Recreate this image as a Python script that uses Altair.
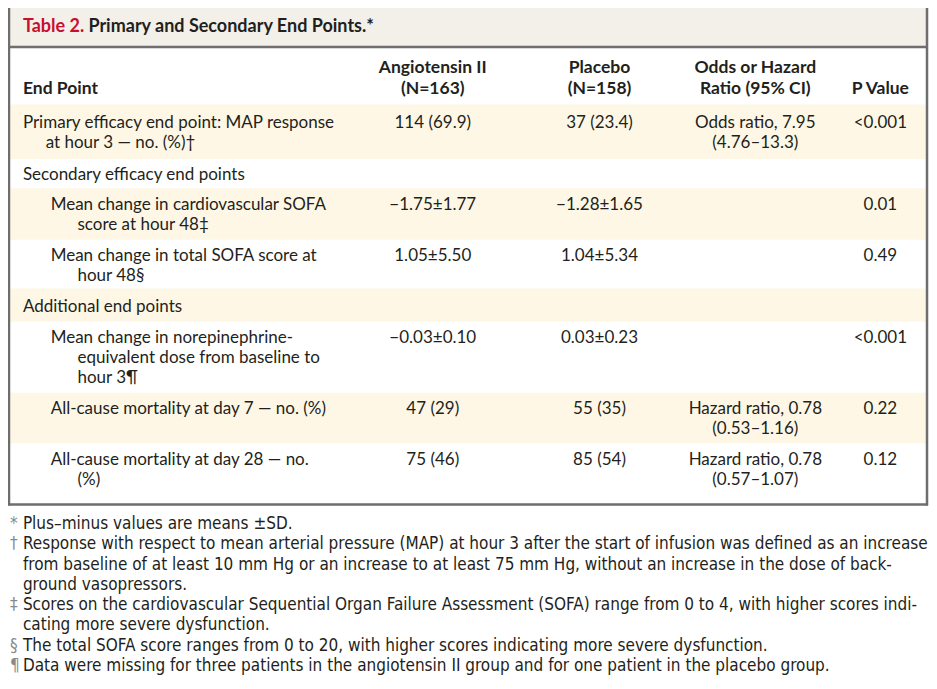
import altair as alt
import pandas as pd

# ---------------- data ----------------
title_prefix = "Table 2."
title_text = "Primary and Secondary End Points.*"

col_headers = [
    ["End Point"],
    ["Angiotensin II", "(N=163)"],
    ["Placebo", "(N=158)"],
    ["Odds or Hazard", "Ratio (95% CI)"],
    ["P Value"],
]

endpoint_lines = [
    ["Primary efficacy end point: MAP response", "at hour 3 — no. (%)†"],
    ["Secondary efficacy end points"],
    ["Mean change in cardiovascular SOFA", "score at hour 48‡"],
    ["Mean change in total SOFA score at", "hour 48§"],
    ["Additional end points"],
    ["Mean change in norepinephrine-", "equivalent dose from baseline to", "hour 3¶"],
    ["All-cause mortality at day 7 — no. (%)"],
    ["All-cause mortality at day 28 — no.", "(%)"],
]
indent_level = [0, 0, 1, 1, 0, 1, 1, 1]
angiotensin = ["114 (69.9)", "", "−1.75±1.77", "1.05±5.50", "", "−0.03±0.10", "47 (29)", "75 (46)"]
placebo = ["37 (23.4)", "", "−1.28±1.65", "1.04±5.34", "", "0.03±0.23", "55 (35)", "85 (54)"]
ratio = [
    ["Odds ratio, 7.95", "(4.76–13.3)"], [], [], [], [], [],
    ["Hazard ratio, 0.78", "(0.53–1.16)"],
    ["Hazard ratio, 0.78", "(0.57–1.07)"],
]
p_values = ["<0.001", "", "0.01", "0.49", "", "<0.001", "0.22", "0.12"]

footnote_symbols = ["*", "†", "", "", "‡", "", "§", "¶"]
footnote_lines = [
    "Plus–minus values are means ±SD.",
    "Response with respect to mean arterial pressure (MAP) at hour 3 after the start of infusion was defined as an increase",
    "from baseline of at least 10 mm Hg or an increase to at least 75 mm Hg, without an increase in the dose of back-",
    "ground vasopressors.",
    "Scores on the cardiovascular Sequential Organ Failure Assessment (SOFA) range from 0 to 4, with higher scores indi-",
    "cating more severe dysfunction.",
    "The total SOFA score ranges from 0 to 20, with higher scores indicating more severe dysfunction.",
    "Data were missing for three patients in the angiotensin II group and for one patient in the placebo group.",
]

# ---------------- layout (pixel grid of the page) ----------------
TABLE_L, TABLE_R, TITLE_B, TABLE_B = 3, 928, 40, 510
col_x = [17, 430, 598, 755, 881]
indent_x = [17, 45]
wrap_extra = [23, 27]
header_y = [62, 83]
line_y0 = [118, 171, 202, 255, 307, 339, 412, 464]
line_step = 20.5
shade_bounds = [(99, 155), (185, 238), (288, 322), (395, 447)]
foot_y0, foot_step = 530, 20.8

rows = []
def add(x, y, text, kind):
    if text:
        rows.append({"x": x, "y": y, "text": text, "kind": kind})

add(17, 20, title_prefix, "title_red")
add(83, 20, title_text, "title")

for ci, hdr in enumerate(col_headers):
    lines = hdr
    ys = header_y[-len(lines):]
    for ln, yy in zip(lines, ys):
        add(col_x[ci], yy, ln, "head_left" if ci == 0 else "head_center")

for ri in range(len(endpoint_lines)):
    y0 = line_y0[ri]
    lvl = indent_level[ri]
    for li, ln in enumerate(endpoint_lines[ri]):
        x = indent_x[lvl] + (wrap_extra[lvl] if li > 0 else 0)
        add(x, y0 + li * line_step, ln, "body_left")
    add(col_x[1], y0, angiotensin[ri], "body_center")
    add(col_x[2], y0, placebo[ri], "body_center")
    for li, ln in enumerate(ratio[ri]):
        add(col_x[3], y0 + li * line_step, ln, "body_center")
    add(col_x[4], y0, p_values[ri], "body_center")

for i, (sym, ln) in enumerate(zip(footnote_symbols, footnote_lines)):
    yy = foot_y0 + i * foot_step
    add(4, yy, sym, "foot_sym")
    add(17, yy, ln, "foot")

text_df = pd.DataFrame(rows)

rect_df = pd.DataFrame(
    [{"x": TABLE_L, "x2": TABLE_R, "y": 0, "y2": TITLE_B, "fill": "#F3F0EA"}]
    + [{"x": TABLE_L, "x2": TABLE_R, "y": a, "y2": b, "fill": "#FEF7E6"} for a, b in shade_bounds]
)
rule_df = pd.DataFrame([
    {"x": TABLE_L, "x2": TABLE_L, "y": 0, "y2": TABLE_B + 1},
    {"x": TABLE_R, "x2": TABLE_R, "y": 0, "y2": TABLE_B + 1},
    {"x": TABLE_L - 1, "x2": TABLE_R + 1, "y": TABLE_B, "y2": TABLE_B},
    {"x": TABLE_L - 1, "x2": TABLE_R + 1, "y": TITLE_B, "y2": TITLE_B},
])

W, H = 921, 668
xs = alt.Scale(domain=[2, 930], nice=False, zero=False)
ys = alt.Scale(domain=[0, 686], nice=False, zero=False, reverse=True)
X = lambda f: alt.X(f, type="quantitative", scale=xs, axis=None)
Y = lambda f: alt.Y(f, type="quantitative", scale=ys, axis=None)

rects = alt.Chart(rect_df).mark_rect().encode(
    x=X("x"), x2="x2", y=Y("y"), y2="y2",
    fill=alt.Fill("fill:N", scale=None),
)
rules = alt.Chart(rule_df).mark_rule(color="#6E6E6E", strokeWidth=2.5).encode(
    x=X("x"), x2="x2", y=Y("y"), y2="y2"
)

BODY = "Lato"
FOOT = "'Liberation Sans Narrow', 'DejaVu Sans Condensed', 'Liberation Sans', sans-serif"
styles = {
    "title_red": dict(align="left", font=BODY, fontSize=18, fontWeight="bold", color="#C8102E"),
    "title": dict(align="left", font=BODY, fontSize=18, fontWeight="bold", color="#231F20"),
    "head_left": dict(align="left", font=BODY, fontSize=17.5, fontWeight="bold", color="#231F20"),
    "head_center": dict(align="center", font=BODY, fontSize=17.5, fontWeight="bold", color="#231F20"),
    "body_left": dict(align="left", font=BODY, fontSize=17, color="#231F20"),
    "body_center": dict(align="center", font=BODY, fontSize=17, color="#231F20"),
    "foot_sym": dict(align="left", font=FOOT, fontSize=17, color="#8A8A8A"),
    "foot": dict(align="left", font=FOOT, fontSize=17, color="#231F20"),
}

layers = [rects]
for kind, st in styles.items():
    layers.append(
        alt.Chart(text_df)
        .transform_filter(alt.datum.kind == kind)
        .mark_text(baseline="middle", **st)
        .encode(x=X("x"), y=Y("y"), text="text:N")
    )
layers.append(rules)

chart = (
    alt.layer(*layers)
    .properties(width=W, height=H, padding=0, background="white",
                autosize=alt.AutoSizeParams(type="none"))
    .configure_view(stroke=None)
)

chart.save("out.html", embed_options={"renderer": "svg", "actions": False})
